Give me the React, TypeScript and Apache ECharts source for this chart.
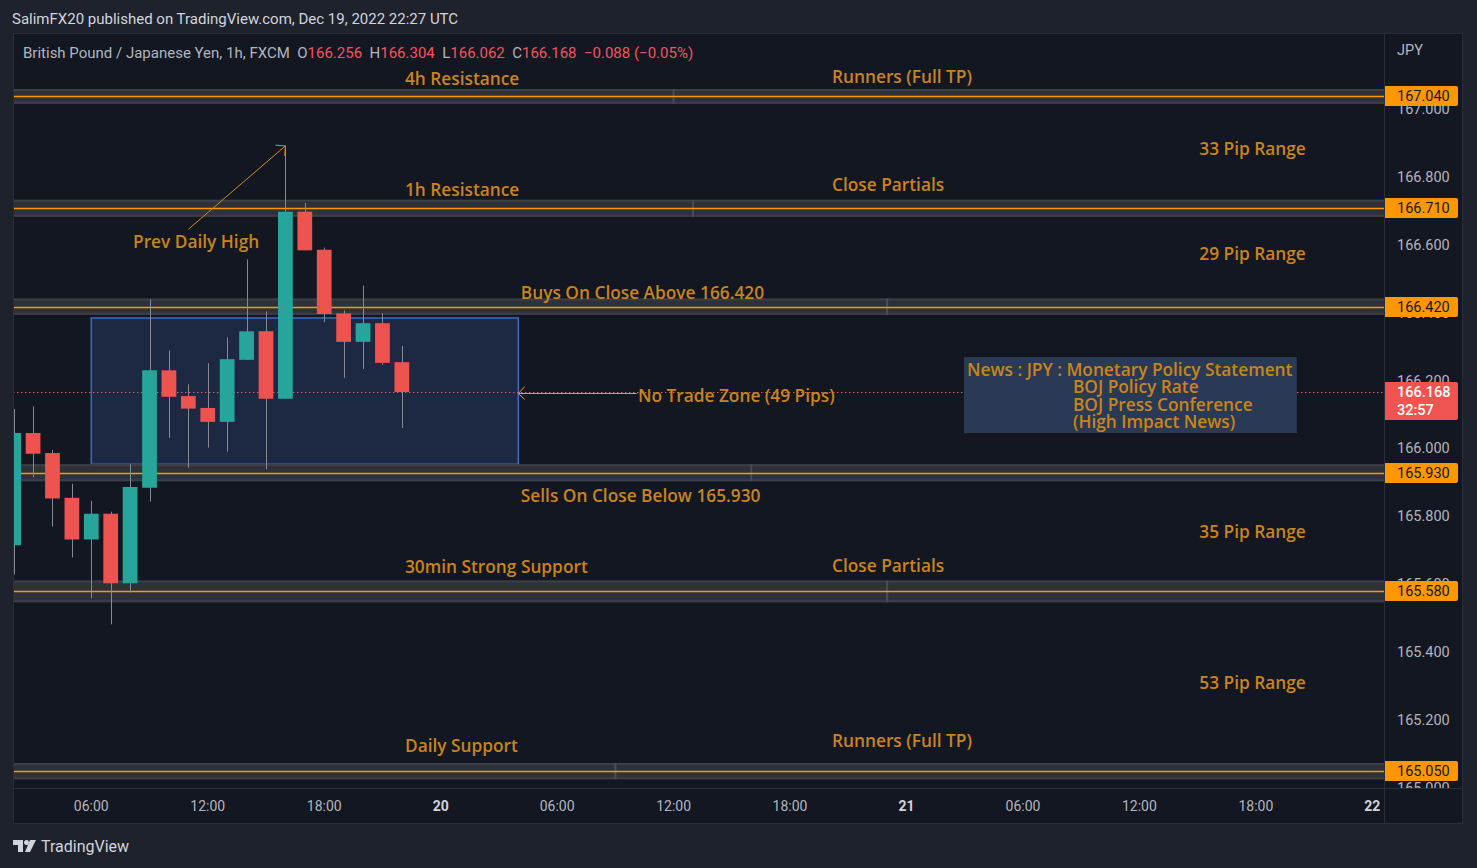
import React, { useEffect, useRef } from "react";
import * as echarts from "echarts";

// ---- Candles (hours since Dec 19 00:00 UTC) ----
const candleHours = [2, 3, 4, 5, 6, 7, 8, 9, 10, 11, 12, 13, 14, 15, 16, 17, 18, 19, 20, 21, 22];
const candleOpen = [165.716, 166.047, 165.988, 165.856, 165.733, 165.809, 165.604, 165.886, 166.232, 166.156, 166.121, 166.08, 166.263, 166.347, 166.148, 166.7, 166.588, 166.4, 166.316, 166.371, 166.256];
const candleClose = [166.047, 165.986, 165.854, 165.733, 165.809, 165.604, 165.888, 166.232, 166.154, 166.119, 166.08, 166.265, 166.347, 166.148, 166.7, 166.586, 166.398, 166.316, 166.371, 166.254, 166.168];
const candleLow = [165.63, 165.916, 165.771, 165.68, 165.56, 165.483, 165.577, 165.845, 166.033, 165.945, 166.004, 165.992, 166.263, 165.94, 166.148, 166.586, 166.374, 166.21, 166.236, 166.248, 166.062];
const candleHigh = [166.118, 166.126, 165.997, 165.897, 165.847, 165.815, 165.955, 166.441, 166.291, 166.191, 166.253, 166.329, 166.559, 166.406, 166.894, 166.726, 166.594, 166.409, 166.482, 166.4, 166.304];

// ---- Horizontal levels ----
const levelPrices = [167.04, 166.71, 166.42, 165.93, 165.58, 165.05];
const levelHalfBand = [0.022, 0.025, 0.024, 0.025, 0.032, 0.024];
const levelAnchorHours = [36, 37, 47, 40, 47, 33];

// ---- Text notes ----
const noteTexts = [
  "4h Resistance", "Runners (Full TP)", "1h Resistance", "Close Partials", "Prev Daily High",
  "Buys On Close Above 166.420", "No Trade Zone (49 Pips)", "Sells On Close Below 165.930",
  "30min Strong Support", "Close Partials", "Daily Support", "Runners (Full TP)",
  "33 Pip Range", "29 Pip Range", "35 Pip Range", "53 Pip Range",
];
const noteHours = [22.16, 44.16, 22.16, 44.16, 8.15, 28.13, 34.16, 28.13, 22.16, 44.16, 22.16, 44.16, 68.57, 68.57, 68.57, 68.57];
const notePrices = [167.094, 167.1, 166.764, 166.779, 166.611, 166.463, 166.159, 165.864, 165.652, 165.655, 165.124, 165.139, 166.885, 166.578, 165.758, 165.31];
const noteAlign = ["left", "left", "left", "left", "left", "left", "left", "left", "left", "left", "left", "left", "right", "right", "right", "right"];

// ---- Drawings ----
const noTradeZoneHours = [6, 28];
const noTradeZonePrices = [166.386, 165.955];
const noTradeArrowHours = [28, 34.1];
const noTradeArrowPrice = 166.165;
const prevHighArrowHours = [11, 16];
const prevHighArrowPrices = [166.648, 166.894];
const newsBoxHours = [50.96, 68.11];
const newsBoxPrices = [166.271, 166.047];
const newsLines = ["News : JPY : Monetary Policy Statement", "BOJ Policy Rate", "BOJ Press Conference", "(High Impact News)"];
const currentPrice = 166.168;
const countdown = "32:57";

// ---- Axes ----
const timeTickHours = [6, 12, 18, 24, 30, 36, 42, 48, 54, 60, 66, 72];
const timeTickLabels = ["06:00", "12:00", "18:00", "20", "06:00", "12:00", "18:00", "21", "06:00", "12:00", "18:00", "22"];
const xRange = [1.966, 72.6];
const yRange = [165.0, 167.227];
const priceStep = 0.2;

const ORANGE = "#ff9800";
const NOTE = "#c9841b";
const UP = "#26a69a";
const DOWN = "#ef5350";
const WICK = "#868993";
const NOTE_FONT = "600 17.3px 'Open Sans'";

function arrowArms(x: number, y: number, fx: number, fy: number, len: number) {
  const ang = Math.atan2(fy - y, fx - x);
  const a1 = ang + Math.PI / 4;
  const a2 = ang - Math.PI / 4;
  return [
    [x + Math.cos(a1) * len, y + Math.sin(a1) * len],
    [x + Math.cos(a2) * len, y + Math.sin(a2) * len],
  ];
}

function buildOption() {
  const candleData = candleHours.map((t, i) => [t, candleOpen[i], candleClose[i], candleLow[i], candleHigh[i]]);
  const levelData = levelPrices.map((p, i) => [levelAnchorHours[i], p, levelHalfBand[i]]);
  const noteData = noteHours.map((t, i) => [t, notePrices[i]]);

  return {
    animation: false,
    backgroundColor: "#131722",
    grid: { left: 13, right: 93, top: 33, bottom: 80, containLabel: false },
    xAxis: {
      type: "value",
      min: xRange[0],
      max: xRange[1],
      axisLine: { show: false },
      axisTick: { show: false },
      splitLine: { show: false },
      axisLabel: {
        customValues: timeTickHours,
        showMinLabel: true,
        showMaxLabel: true,
        color: "#b2b5be",
        fontSize: 14,
        fontFamily: "Roboto",
        margin: 11,
        formatter: (v: number) => {
          const i = timeTickHours.indexOf(Math.round(v));
          if (i < 0) return "";
          const s = timeTickLabels[i];
          return Math.round(v) % 24 === 0 ? `{day|${s}}` : s;
        },
        rich: { day: { fontWeight: "bold", color: "#d1d4dc", fontSize: 14, fontFamily: "Roboto" } },
      },
    },
    yAxis: {
      type: "value",
      position: "right",
      min: yRange[0],
      max: yRange[1],
      interval: priceStep,
      axisLine: { show: false },
      axisTick: { show: false },
      splitLine: { show: false },
      axisLabel: {
        color: "#b2b5be",
        fontSize: 14.5,
        fontFamily: "Roboto",
        margin: 13,
        formatter: (v: number) => (v > 167.1 ? "" : v.toFixed(3)),
      },
    },
    series: [
      {
        type: "custom",
        z: 1,
        silent: true,
        data: [[noTradeZoneHours[0], noTradeZonePrices[0]]],
        encode: { x: 0, y: 1 },
        renderItem: (params: any, api: any) => {
          const cs = params.coordSys;
          const a = api.coord([noTradeZoneHours[0], noTradeZonePrices[0]]);
          const b = api.coord([noTradeZoneHours[1], noTradeZonePrices[1]]);
          const yc = api.coord([xRange[0], currentPrice])[1];
          return {
            type: "group",
            children: [
              {
                type: "rect",
                shape: { x: a[0], y: a[1], width: b[0] - a[0], height: b[1] - a[1] },
                style: { fill: "#1d2943", stroke: "#3b6cc6", lineWidth: 1.5 },
              },
              {
                type: "line",
                shape: { x1: cs.x, y1: Math.round(yc) + 0.5, x2: cs.x + cs.width, y2: Math.round(yc) + 0.5 },
                style: { stroke: "#f05350", lineWidth: 1, lineDash: [1.5, 2.5] },
              },
            ],
          };
        },
      },
      {
        type: "custom",
        z: 2,
        silent: true,
        data: levelData,
        encode: { x: 0, y: 1 },
        renderItem: (params: any, api: any) => {
          const cs = params.coordSys;
          const anchor = api.value(0);
          const lv = api.value(1);
          const half = api.value(2);
          const yT = api.coord([anchor, lv + half])[1];
          const yB = api.coord([anchor, lv - half])[1];
          const yL = Math.round(api.coord([anchor, lv])[1]) + 0.5;
          const xA = api.coord([anchor, lv])[0];
          const xr = cs.x + cs.width;
          return {
            type: "group",
            children: [
              { type: "rect", shape: { x: cs.x, y: yT, width: cs.width, height: yB - yT }, style: { fill: "#2f3139" } },
              { type: "rect", shape: { x: cs.x, y: yT, width: cs.width, height: 2 }, style: { fill: "#3c3f47" } },
              { type: "rect", shape: { x: cs.x, y: yB - 2, width: cs.width, height: 2 }, style: { fill: "#3c3f47" } },
              { type: "rect", shape: { x: xA - 1, y: yT, width: 2, height: yB - yT }, style: { fill: "#4a4d56" } },
              { type: "line", shape: { x1: cs.x, y1: yL, x2: xr, y2: yL }, style: { stroke: ORANGE, lineWidth: 1.3 } },
              { type: "rect", shape: { x: xr, y: yL - 10.5, width: 74, height: 20, r: [0, 2, 2, 0] }, style: { fill: ORANGE } },
              {
                type: "text",
                x: xr + 13,
                y: yL,
                style: {
                  text: lv.toFixed(3),
                  fill: "#131722",
                  font: "14.5px Roboto",
                  align: "left",
                  verticalAlign: "middle",
                  textAlign: "left",
                  textVerticalAlign: "middle",
                },
              },
            ],
          };
        },
      },
      {
        type: "custom",
        z: 3,
        silent: true,
        data: candleData,
        encode: { x: 0, y: [1, 2, 3, 4] },
        renderItem: (params: any, api: any) => {
          const cs = params.coordSys;
          const t = api.value(0);
          const o = api.value(1);
          const c = api.value(2);
          const l = api.value(3);
          const h = api.value(4);
          const pO = api.coord([t, o]);
          const pC = api.coord([t, c]);
          const pL = api.coord([t, l]);
          const pH = api.coord([t, h]);
          const w = api.size([1, 0])[0] * 0.76;
          const x = pO[0];
          const children: any[] = [];
          if (x >= cs.x) {
            const xw = Math.round(x) + 0.5;
            children.push({ type: "line", shape: { x1: xw, y1: pH[1], x2: xw, y2: pL[1] }, style: { stroke: WICK, lineWidth: 1 } });
          }
          const body = echarts.graphic.clipRectByRect(
            { x: x - w / 2, y: Math.min(pO[1], pC[1]), width: w, height: Math.max(Math.abs(pO[1] - pC[1]), 1) },
            { x: cs.x, y: cs.y, width: cs.width, height: cs.height }
          );
          if (body) children.push({ type: "rect", shape: body, style: { fill: c >= o ? UP : DOWN } });
          return { type: "group", children };
        },
      },
      {
        type: "custom",
        z: 4,
        silent: true,
        data: noteData,
        encode: { x: 0, y: 1 },
        renderItem: (params: any, api: any) => {
          const i = params.dataIndex;
          const p = api.coord([api.value(0), api.value(1)]);
          return {
            type: "text",
            x: p[0],
            y: p[1],
            style: {
              text: noteTexts[i],
              fill: NOTE,
              font: NOTE_FONT,
              align: noteAlign[i],
              verticalAlign: "middle",
              textAlign: noteAlign[i],
              textVerticalAlign: "middle",
            },
          };
        },
      },
      {
        type: "custom",
        z: 5,
        silent: true,
        data: [[prevHighArrowHours[0], prevHighArrowPrices[0]]],
        encode: { x: 0, y: 1 },
        renderItem: (params: any, api: any) => {
          const cs = params.coordSys;
          const s = api.coord([prevHighArrowHours[0], prevHighArrowPrices[0]]);
          const e = api.coord([prevHighArrowHours[1], prevHighArrowPrices[1]]);
          const arms1 = arrowArms(e[0], e[1], s[0], s[1], 10);
          const n0 = api.coord([noTradeArrowHours[0], noTradeArrowPrice]);
          const n1 = api.coord([noTradeArrowHours[1], noTradeArrowPrice]);
          const arms2 = arrowArms(n0[0], n0[1], n1[0], n1[1], 9);
          const nb0 = api.coord([newsBoxHours[0], newsBoxPrices[0]]);
          const nb1 = api.coord([newsBoxHours[1], newsBoxPrices[1]]);
          const yc = api.coord([xRange[0], currentPrice])[1];
          const xr = cs.x + cs.width;
          const txt = (text: string, x: number, y: number, fill: string, font: string) => ({
            type: "text",
            x,
            y,
            style: { text, fill, font, align: "left", verticalAlign: "middle", textAlign: "left", textVerticalAlign: "middle" },
          });
          const ny = Math.round(n0[1]) + 0.5;
          return {
            type: "group",
            children: [
              { type: "line", shape: { x1: s[0], y1: s[1], x2: e[0], y2: e[1] }, style: { stroke: "#d08a22", lineWidth: 1 } },
              { type: "polyline", shape: { points: [arms1[0], [e[0], e[1]], arms1[1]] }, style: { stroke: "#d08a22", lineWidth: 1, fill: null } },
              { type: "line", shape: { x1: n0[0], y1: ny, x2: n1[0], y2: ny }, style: { stroke: ORANGE, lineWidth: 1 } },
              { type: "polyline", shape: { points: [arms2[0], [n0[0], ny], arms2[1]] }, style: { stroke: ORANGE, lineWidth: 1, fill: null } },
              { type: "rect", shape: { x: nb0[0], y: nb0[1], width: nb1[0] - nb0[0], height: nb1[1] - nb0[1] }, style: { fill: "#2a3a55" } },
              txt(newsLines[0], nb0[0] + 3, nb0[1] + 12, NOTE, NOTE_FONT),
              txt(newsLines[1], nb0[0] + 109, nb0[1] + 29, NOTE, NOTE_FONT),
              txt(newsLines[2], nb0[0] + 109, nb0[1] + 47, NOTE, NOTE_FONT),
              txt(newsLines[3], nb0[0] + 109, nb0[1] + 64, NOTE, NOTE_FONT),
              { type: "rect", shape: { x: xr, y: yc - 10, width: 74, height: 38, r: [0, 2, 2, 0] }, style: { fill: "#f05350" } },
              txt(currentPrice.toFixed(3), xr + 13, yc + 0.5, "#ffffff", "500 14.5px Roboto"),
              txt(countdown, xr + 13, yc + 18, "#ffffff", "500 14.5px Roboto"),
            ],
          };
        },
      },
    ],
    graphic: [
      { type: "rect", silent: true, z: 50, shape: { x: 0, y: 0, width: 1477, height: 33 }, style: { fill: "#1e222d" } },
      { type: "rect", silent: true, z: 50, shape: { x: 0, y: 0, width: 13, height: 868 }, style: { fill: "#1e222d" } },
      { type: "rect", silent: true, z: 50, shape: { x: 1463, y: 0, width: 14, height: 868 }, style: { fill: "#1e222d" } },
      { type: "rect", silent: true, z: 50, shape: { x: 0, y: 824, width: 1477, height: 44 }, style: { fill: "#1e222d" } },
      { type: "rect", silent: true, z: 50, shape: { x: 1385, y: 789, width: 78, height: 35 }, style: { fill: "#131722" } },
      { type: "rect", silent: true, z: 60, shape: { x: 13.5, y: 33.5, width: 1449, height: 790 }, style: { fill: null, stroke: "#2a2e39", lineWidth: 1 } },
      { type: "line", silent: true, z: 60, shape: { x1: 13, y1: 788.5, x2: 1463, y2: 788.5 }, style: { stroke: "#2a2e39", lineWidth: 1 } },
      { type: "line", silent: true, z: 60, shape: { x1: 1384.5, y1: 33, x2: 1384.5, y2: 824 }, style: { stroke: "#2a2e39", lineWidth: 1 } },
      {
        type: "text", silent: true, z: 60, x: 12, y: 19,
        style: { text: "SalimFX20 published on TradingView.com, Dec 19, 2022 22:27 UTC", fill: "#d1d4dc", font: "15px Roboto", align: "left", verticalAlign: "middle", textAlign: "left", textVerticalAlign: "middle" },
      },
      {
        type: "text", silent: true, z: 60, x: 23, y: 53,
        style: {
          text: "{g|British Pound / Japanese Yen, 1h, FXCM  O}{r|166.256}{g|  H}{r|166.304}{g|  L}{r|166.062}{g|  C}{r|166.168}{r|  −0.088 (−0.05%)}",
          font: "15px Roboto",
          fill: "#b2b5be",
          align: "left", verticalAlign: "middle", textAlign: "left", textVerticalAlign: "middle",
          rich: {
            g: { fill: "#b2b5be", fontSize: 15, fontFamily: "Roboto" },
            r: { fill: "#f7525f", fontSize: 15, fontFamily: "Roboto" },
          },
        },
      },
      {
        type: "text", silent: true, z: 60, x: 1397, y: 50,
        style: { text: "JPY", fill: "#b2b5be", font: "14.5px Roboto", align: "left", verticalAlign: "middle", textAlign: "left", textVerticalAlign: "middle" },
      },
      { type: "polygon", silent: true, z: 60, shape: { points: [[13, 840], [23, 840], [23, 852], [18, 852], [18, 845], [13, 845]] }, style: { fill: "#d1d4dc" } },
      { type: "circle", silent: true, z: 60, shape: { cx: 26.5, cy: 842.5, r: 2.5 }, style: { fill: "#d1d4dc" } },
      { type: "polygon", silent: true, z: 60, shape: { points: [[30, 840], [36, 840], [30, 852], [25, 852]] }, style: { fill: "#d1d4dc" } },
      {
        type: "text", silent: true, z: 60, x: 41, y: 846,
        style: { text: "TradingView", fill: "#d1d4dc", font: "16px Roboto", align: "left", verticalAlign: "middle", textAlign: "left", textVerticalAlign: "middle" },
      },
    ],
  };
}

export default function App() {
  const ref = useRef<HTMLDivElement>(null);
  useEffect(() => {
    if (!ref.current) return;
    const chart = echarts.init(ref.current, null, { renderer: "svg" });
    chart.setOption(buildOption() as any);
    return () => chart.dispose();
  }, []);
  return <div ref={ref} style={{ position: "absolute", left: 0, top: 0, width: 1477, height: 868 }} />;
}
